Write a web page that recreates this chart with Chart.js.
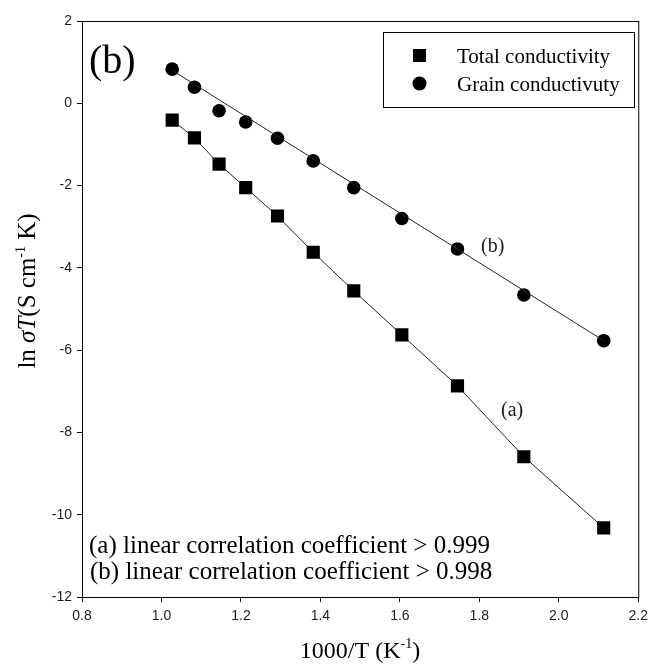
<!DOCTYPE html>
<html>
<head>
<meta charset="utf-8">
<script src="https://cdn.jsdelivr.net/npm/chart.js@4.4.1/dist/chart.umd.min.js"></script>
<style>
  body { margin: 0; background: #fff; }
  #wrap { width: 654px; height: 664px; position: relative; }
</style>
</head>
<body>
<div id="wrap"><canvas id="grafico"></canvas></div>
<script>
// 1000/T values (K^-1)
const invT = [1.027, 1.083, 1.145, 1.212, 1.292, 1.382, 1.484, 1.605, 1.745, 1.912, 2.113];
// ln(sigma T)
const totalCond = [-0.41, -0.84, -1.48, -2.05, -2.74, -3.62, -4.56, -5.63, -6.87, -8.59, -10.32];
const grainCond = [0.83, 0.39, -0.18, -0.455, -0.85, -1.40, -2.05, -2.80, -3.54, -4.66, -5.77];
// straight fit line through grain points (ends)
const grainFitX = [1.027, 2.113];
const grainFitY = [0.80, -5.77];

const xTicks = [0.8, 1.0, 1.2, 1.4, 1.6, 1.8, 2.0, 2.2];
const yTicks = [2, 0, -2, -4, -6, -8, -10, -12];

const serif = "'Liberation Serif', 'Times New Roman', serif";

function punti(xs, ys){
    let out = [];
    for(let i = 0; i < xs.length; i++){
        out.push({x: xs[i], y: ys[i]});
    }
    return out;
}

// draws text made of several pieces (font, offset) one after another
function pezzi(ctx, parts, x, y, align){
    let tot = 0;
    for(let p of parts){
        ctx.font = p.f;
        p.w = ctx.measureText(p.t).width;
        tot += p.w;
    }
    let cx = align == "center" ? x - tot/2 : x;
    ctx.textAlign = "left";
    ctx.textBaseline = "alphabetic";
    for(let p of parts){
        ctx.font = p.f;
        ctx.fillText(p.t, cx, y + (p.dy || 0));
        cx += p.w;
    }
}

const testi = {
    id: "testi",
    afterDraw(chart){
        let ctx = chart.ctx;
        let a = chart.chartArea;
        ctx.save();
        // frame
        ctx.strokeStyle = "#000";
        ctx.lineWidth = 1;
        ctx.strokeRect(a.left + 0.5, a.top + 0.5, a.right - a.left, a.bottom - a.top);

        ctx.fillStyle = "#000";
        // big panel label
        ctx.font = "40px " + serif;
        ctx.textBaseline = "alphabetic";
        ctx.textAlign = "left";
        ctx.fillText("(b)", 89, 73);

        // line labels
        ctx.font = "20px " + serif;
        ctx.fillStyle = "#1a1a1a";
        ctx.fillText("(b)", 481, 252);
        ctx.fillText("(a)", 501, 416);

        // correlation notes
        ctx.fillStyle = "#000";
        ctx.font = "25px " + serif;
        ctx.fillText("(a) linear correlation coefficient > 0.999", 89, 553);
        ctx.fillText("(b) linear correlation coefficient > 0.998", 90, 579);

        // legend
        ctx.strokeRect(383.5, 32.5, 251, 75);
        ctx.fillRect(413, 49, 13, 13);
        ctx.beginPath();
        ctx.arc(419.5, 83.5, 7, 0, Math.PI*2);
        ctx.fill();
        ctx.font = "21px " + serif;
        ctx.fillText("Total conductivity", 457, 63);
        ctx.fillText("Grain conductivuty", 457, 91);

        // x title
        pezzi(ctx, [
            {t: "1000/T (K", f: "24px " + serif},
            {t: "-1", f: "14px " + serif, dy: -10},
            {t: ")", f: "24px " + serif}
        ], 360, 658, "center");

        // y title
        ctx.translate(35, 291);
        ctx.rotate(-Math.PI/2);
        pezzi(ctx, [
            {t: "ln ", f: "25px " + serif},
            {t: "σT", f: "italic 25px " + serif},
            {t: "(S cm", f: "25px " + serif},
            {t: "-1", f: "14px " + serif, dy: -10},
            {t: " K)", f: "25px " + serif}
        ], 0, 0, "center");
        ctx.restore();
    }
};

let grafico = new Chart(document.getElementById("grafico"), {
    type: "scatter",
    data: {
        datasets: [
            {
                label: "fit b",
                data: punti(grainFitX, grainFitY),
                showLine: true,
                borderColor: "#222",
                borderWidth: 1,
                pointRadius: 0
            },
            {
                label: "Total conductivity",
                data: punti(invT, totalCond),
                showLine: true,
                borderColor: "#222",
                borderWidth: 1,
                pointStyle: "rect",
                pointRadius: 9.3,
                pointBackgroundColor: "#000",
                pointBorderColor: "#000",
                pointBorderWidth: 0
            },
            {
                label: "Grain conductivuty",
                data: punti(invT, grainCond),
                showLine: false,
                pointStyle: "circle",
                pointRadius: 6.8,
                pointBackgroundColor: "#000",
                pointBorderColor: "#000",
                pointBorderWidth: 0
            }
        ]
    },
    options: {
        responsive: true,
        maintainAspectRatio: false,
        animation: false,
        layout: { padding: { left: 0, top: 21, right: 12, bottom: 0 } },
        plugins: {
            legend: { display: false },
            tooltip: { enabled: false }
        },
        scales: {
            x: {
                type: "linear",
                min: 0.8,
                max: 2.2,
                afterFit(s){ s.height = 67; },
                afterBuildTicks(s){ s.ticks = xTicks.map(v => ({value: v})); },
                grid: { drawOnChartArea: false, drawTicks: true, tickLength: 5, color: "#000" },
                border: { display: true, color: "#000", width: 1 },
                ticks: {
                    color: "#1a1a2a",
                    padding: 6,
                    font: { family: "'Liberation Sans', Arial, sans-serif", size: 14 },
                    callback: v => v.toFixed(1)
                }
            },
            y: {
                type: "linear",
                min: -12,
                max: 2,
                afterFit(s){ s.width = 82; },
                afterBuildTicks(s){ s.ticks = yTicks.map(v => ({value: v})); },
                grid: { drawOnChartArea: false, drawTicks: true, tickLength: 5, color: "#000" },
                border: { display: true, color: "#000", width: 1 },
                ticks: {
                    color: "#1a1a2a",
                    padding: 5,
                    font: { family: "'Liberation Sans', Arial, sans-serif", size: 14 },
                    callback: v => String(v)
                }
            }
        }
    },
    plugins: [testi]
});
</script>
</body>
</html>
